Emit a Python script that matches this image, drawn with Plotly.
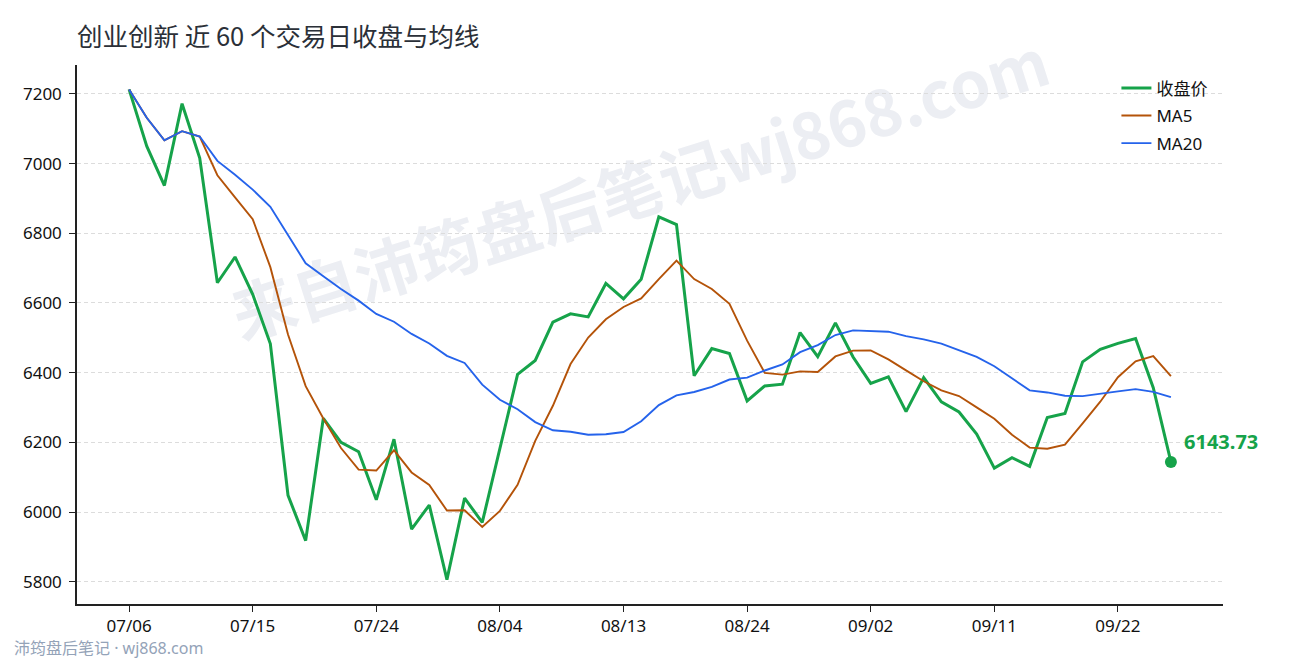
import plotly.graph_objects as go

# 60 trading days, 2020-07-06 .. 2020-09-25
dates = [
    "07/06", "07/07", "07/08", "07/09", "07/10", "07/13", "07/14", "07/15", "07/16", "07/17",
    "07/20", "07/21", "07/22", "07/23", "07/24", "07/27", "07/28", "07/29", "07/30", "07/31",
    "08/03", "08/04", "08/05", "08/06", "08/07", "08/10", "08/11", "08/12", "08/13", "08/14",
    "08/17", "08/18", "08/19", "08/20", "08/21", "08/24", "08/25", "08/26", "08/27", "08/28",
    "08/31", "09/01", "09/02", "09/03", "09/04", "09/07", "09/08", "09/09", "09/10", "09/11",
    "09/14", "09/15", "09/16", "09/17", "09/18", "09/21", "09/22", "09/23", "09/24", "09/25",
]

close = [
    7213, 7050, 6937, 7172, 7016, 6658, 6732, 6625, 6483, 6048,
    5918, 6269, 6200, 6173, 6035, 6209, 5951, 6020, 5806, 6040,
    5970, 6180, 6395, 6435, 6545, 6569, 6560, 6656, 6612, 6668,
    6847, 6825, 6391, 6469, 6455, 6319, 6362, 6367, 6515, 6446,
    6543, 6445, 6369, 6388, 6288, 6386, 6316, 6287, 6224, 6126,
    6156, 6131, 6271, 6283, 6431, 6467, 6484, 6498, 6357, 6143.73,
]

ma5 = [
    7213.0, 7131.5, 7066.7, 7093.0, 7077.6, 6966.6, 6903.0, 6840.6, 6702.8, 6509.2,
    6361.2, 6268.6, 6183.6, 6121.6, 6119.0, 6177.2, 6113.6, 6077.6, 6004.2, 6005.2,
    5957.4, 6003.2, 6078.2, 6204.0, 6305.0, 6424.8, 6500.8, 6553.0, 6588.4, 6613.0,
    6668.6, 6721.6, 6668.6, 6640.0, 6597.4, 6491.8, 6399.2, 6394.4, 6403.6, 6401.8,
    6446.6, 6463.2, 6463.6, 6438.2, 6406.6, 6375.2, 6349.4, 6333.0, 6300.2, 6267.8,
    6221.8, 6184.8, 6181.6, 6193.4, 6254.4, 6316.6, 6387.0, 6432.6, 6447.4, 6390.0,
]

ma20 = [
    7213.0, 7131.5, 7066.7, 7093.0, 7077.6, 7007.7, 6968.3, 6925.4, 6876.2, 6793.4,
    6713.8, 6676.8, 6640.1, 6606.7, 6568.6, 6546.1, 6511.1, 6483.8, 6448.2, 6427.8,
    6365.6, 6322.1, 6295.0, 6258.2, 6234.6, 6230.2, 6221.6, 6223.1, 6229.6, 6260.6,
    6307.0, 6334.8, 6344.4, 6359.2, 6380.2, 6385.7, 6406.2, 6423.6, 6459.0, 6479.3,
    6508.0, 6521.2, 6519.9, 6517.6, 6504.7, 6495.6, 6483.4, 6464.9, 6445.5, 6418.4,
    6383.9, 6349.2, 6343.2, 6333.9, 6332.7, 6340.1, 6346.2, 6352.7, 6344.8, 6329.7,
]

tick_dates = ["07/06", "07/15", "07/24", "08/04", "08/13", "08/24", "09/02", "09/11", "09/22"]
y_ticks = [5800, 6000, 6200, 6400, 6600, 6800, 7000, 7200]

GREEN = "#16a34a"
ORANGE = "#b45309"
BLUE = "#2563eb"
FONT = "Noto Sans, Noto Sans CJK SC, sans-serif"

fig = go.Figure()
fig.add_trace(go.Scatter(x=dates, y=close, mode="lines", name="收盘价",
                         line=dict(color=GREEN, width=3), legendgroup="a"))
fig.add_trace(go.Scatter(x=dates, y=ma5, mode="lines", name="MA5",
                         line=dict(color=ORANGE, width=1.9), legendgroup="b"))
fig.add_trace(go.Scatter(x=dates, y=ma20, mode="lines", name="MA20",
                         line=dict(color=BLUE, width=1.9), legendgroup="c"))
# last point
fig.add_trace(go.Scatter(x=[dates[-1]], y=[close[-1]], mode="markers", showlegend=False,
                         marker=dict(color=GREEN, size=12)))
fig.add_annotation(x=dates[-1], y=close[-1], text=f"<b>{close[-1]:.2f}</b>",
                   showarrow=False, xanchor="left", yanchor="middle",
                   xshift=11, yshift=20, font=dict(family=FONT, size=20, color=GREEN))

# watermark behind the lines
fig.add_shape(type="rect", xref="paper", yref="paper", x0=0.383, x1=0.603, y0=0.71, y1=0.81,
              layer="below", line=dict(width=0), fillcolor="rgba(0,0,0,0)",
              label=dict(text="来自沛筠盘后笔记wj868.com", textangle=-17.6,
                         textposition="middle center",
                         font=dict(family="Noto Sans CJK SC", size=64, color="#eceef3",
                                   weight="bold")))

# footer
fig.add_annotation(xref="paper", yref="paper", x=-0.057, y=-0.082, xanchor="left",
                   yanchor="middle", showarrow=False, text="沛筠盘后笔记 · wj868.com",
                   font=dict(family=FONT, size=16, color="#94a3b8"))

fig.update_xaxes(type="category", categoryorder="array", categoryarray=dates,
                 range=[-2.95, len(dates) - 1 + 2.95],
                 tickmode="array", tickvals=tick_dates, ticktext=tick_dates,
                 showgrid=False, showline=True, linecolor="#222", linewidth=1.5,
                 ticks="outside", ticklen=6, tickwidth=1.3, tickcolor="#222",
                 tickfont=dict(family=FONT, size=17, color="#111"), zeroline=False)
fig.update_yaxes(range=[5736, 7283], tickmode="array", tickvals=y_ticks,
                 showgrid=True, gridcolor="#dcdcdc", gridwidth=0.8, griddash="4px,3px",
                 showline=True, linecolor="#222", linewidth=1.5,
                 ticks="outside", ticklen=6, tickwidth=1.3, tickcolor="#222",
                 tickfont=dict(family=FONT, size=17, color="#111"), zeroline=False,
                 ticklabelstandoff=4)

fig.update_layout(
    width=1290, height=660,
    margin=dict(l=77, r=67, t=65, b=56),
    paper_bgcolor="white", plot_bgcolor="white",
    title=dict(text="创业创新 近 60 个交易日收盘与均线", xref="container", yref="container",
               x=77 / 1290, y=1 - 37 / 660, xanchor="left", yanchor="middle",
               font=dict(family="Noto Sans CJK SC", size=25.5, color="#2b3038")),
    legend=dict(x=0.907, y=0.99, xanchor="left", yanchor="top", bgcolor="rgba(0,0,0,0)",
                font=dict(family=FONT, size=17, color="#111"), tracegroupgap=2.5),
    showlegend=True,
    hovermode=False,
)

fig.write_html("out.html", config={"displayModeBar": False},
               post_script="document.body.style.margin='0';")
